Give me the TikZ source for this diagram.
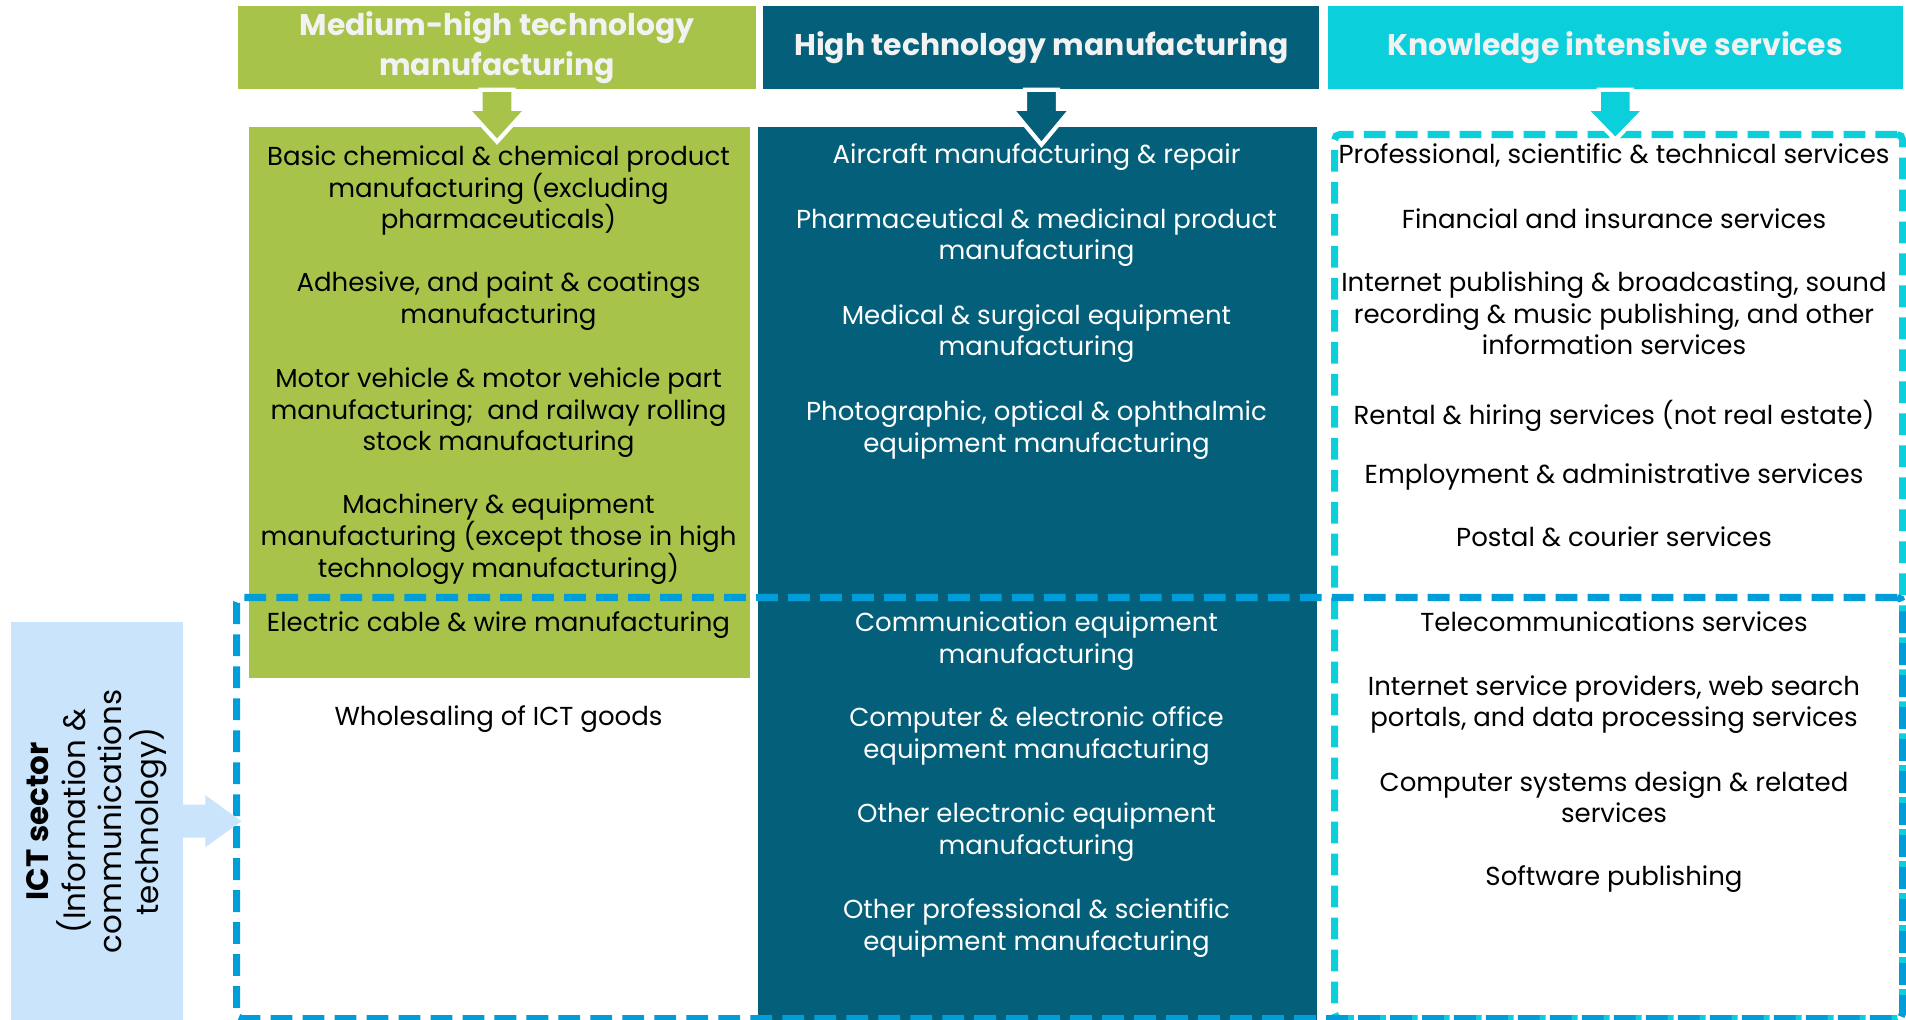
\documentclass[tikz,border=0pt]{standalone}
\usepackage{fontspec}
\setmainfont{Poppins}
\usetikzlibrary{positioning,calc}
\definecolor{medgreen}{RGB}{167,195,74}
\definecolor{hightech}{RGB}{4,96,122}
\definecolor{kiscyan}{RGB}{11,207,219}
\definecolor{ictblue}{RGB}{0,157,217}
\definecolor{ictlight}{RGB}{201,228,251}
\definecolor{hdrtext}{RGB}{242,242,242}
\newcommand{\tightlines}{\setlength{\lineskiplimit}{-20pt}}
\tikzset{
  header/.style={rectangle, fill=#1, text=hdrtext, align=center,
                 font=\fontsize{8.5}{11.2}\selectfont\bfseries\tightlines,
                 minimum height=0.83cm, inner sep=0pt},
  colbox/.style={rectangle, fill=#1, inner sep=0pt, anchor=north west},
  item/.style={align=center, font=\fontsize{7.4}{9}\selectfont\tightlines,
               inner sep=0pt, anchor=north},
  dashbox/.style={draw=#1, line width=2pt, dash pattern=on 6.2pt off 2.9pt,
                  rounded corners=1.5pt, inner sep=0pt, anchor=north west},
  hdrarrow/.style={draw=white, line width=1.2pt}
}
\begin{document}
\begin{tikzpicture}
  \useasboundingbox (0,0) rectangle (19.06,-10.20);
  % headers
  \node[header=medgreen, minimum width=5.18cm] (hdrmed) at (4.97,-0.475) {Medium-high technology\\manufacturing};
  \node[header=hightech, minimum width=5.56cm, right=0.06cm of hdrmed] (hdrhigh) {High technology manufacturing};
  \node[header=kiscyan, minimum width=5.75cm, right=0.07cm of hdrhigh] (hdrkis) {Knowledge intensive services};
  % column blocks
  \node[colbox=medgreen, minimum width=5.01cm, minimum height=5.51cm] (medbox) at (2.48,-1.26) {};
  \node[colbox=hightech, minimum width=5.59cm, minimum height=8.94cm] (highbox) at (7.57,-1.26) {};
  \node[colbox=ictlight, minimum width=1.72cm, minimum height=3.99cm] (ictlabel) at (0.10,-6.21) {};
  \node[rotate=90, align=center, inner sep=0pt, font=\fontsize{8.8}{10.4}\selectfont\tightlines] (icttext) at (ictlabel.center)
    {\textbf{ICT sector}\\(Information \&\\communications\\technology)};
  % medium-high technology manufacturing
  \node[item] (med1) at (4.985,-1.45) {Basic chemical \& chemical product\\manufacturing (excluding\\pharmaceuticals)};
  \node[item] (med2) at (4.985,-2.71) {Adhesive, and paint \& coatings\\manufacturing};
  \node[item] (med3) at (4.985,-3.67) {Motor vehicle \& motor vehicle part\\manufacturing;~ and railway rolling\\stock manufacturing};
  \node[item] (med4) at (4.985,-4.935) {Machinery \& equipment\\manufacturing (except those in high\\technology manufacturing)};
  \node[item] (med5) at (4.985,-6.11) {Electric cable \& wire manufacturing};
  \node[item] (med6) at (4.985,-7.05) {Wholesaling of ICT goods};
  % high technology manufacturing
  \node[item, text=white] (high1) at (10.365,-1.434) {Aircraft manufacturing \& repair};
  \node[item, text=white] (high2) at (10.365,-2.078) {Pharmaceutical \& medicinal product\\manufacturing};
  \node[item, text=white] (high3) at (10.365,-3.038) {Medical \& surgical equipment\\manufacturing};
  \node[item, text=white] (high4) at (10.365,-3.999) {Photographic, optical \& ophthalmic\\equipment manufacturing};
  \node[item, text=white] (high5) at (10.365,-6.114) {Communication equipment\\manufacturing};
  \node[item, text=white] (high6) at (10.365,-7.062) {Computer \& electronic office\\equipment manufacturing};
  \node[item, text=white] (high7) at (10.365,-8.022) {Other electronic equipment\\manufacturing};
  \node[item, text=white] (high8) at (10.365,-8.983) {Other professional \& scientific\\equipment manufacturing};
  % knowledge intensive services
  \node[item] (kis1) at (16.14,-1.434) {Professional, scientific \& technical services};
  \node[item] (kis2) at (16.14,-2.078) {Financial and insurance services};
  \node[item] (kis3) at (16.14,-2.71) {Internet publishing \& broadcasting, sound\\recording \& music publishing, and other\\information services};
  \node[item] (kis4) at (16.14,-3.999) {Rental \& hiring services (not real estate)};
  \node[item] (kis5) at (16.14,-4.63) {Employment \& administrative services};
  \node[item] (kis6) at (16.14,-5.263) {Postal \& courier services};
  \node[item] (kis7) at (16.14,-6.114) {Telecommunications services};
  \node[item] (kis8) at (16.14,-6.746) {Internet service providers, web search\\portals, and data processing services};
  \node[item] (kis9) at (16.14,-7.706) {Computer systems design \& related\\services};
  \node[item] (kis10) at (16.14,-8.654) {Software publishing};
  % dashed groupings
  \node[dashbox=kiscyan, minimum width=5.68cm, minimum height=8.84cm] (kisbox) at (13.31,-1.31) {};
  \node[dashbox=ictblue, minimum width=16.66cm, minimum height=4.21cm] (ictbox) at (2.33,-5.94) {};
  % block arrows
  \draw[hdrarrow, fill=medgreen] ($(hdrmed.south)+(-0.165,0)$) -- ++(0,-0.19) -- ++(-0.135,0)
    -- ($(hdrmed.south)+(0,-0.52)$) -- ($(hdrmed.south)+(0.30,-0.19)$) -- ++(-0.135,0) -- ++(0,0.19) -- cycle;
  \draw[hdrarrow, fill=hightech] ($(hdrhigh.south)+(-0.165,0)$) -- ++(0,-0.19) -- ++(-0.135,0)
    -- ($(hdrhigh.south)+(0,-0.55)$) -- ($(hdrhigh.south)+(0.30,-0.19)$) -- ++(-0.135,0) -- ++(0,0.19) -- cycle;
  \draw[hdrarrow, fill=kiscyan] ($(hdrkis.south)+(-0.165,0)$) -- ++(0,-0.19) -- ++(-0.135,0)
    -- ($(hdrkis.south)+(0,-0.50)$) -- ($(hdrkis.south)+(0.30,-0.19)$) -- ++(-0.135,0) -- ++(0,0.19) -- cycle;
  \fill[ictlight] ($(ictlabel.east)+(-0.01,0.165)$) -- ++(0.23,0) -- ++(0,0.095)
    -- ($(ictlabel.east)+(0.58,0)$) -- ($(ictlabel.east)+(0.22,-0.26)$) -- ++(0,0.095) -- ++(-0.23,0) -- cycle;
\end{tikzpicture}
\end{document}
